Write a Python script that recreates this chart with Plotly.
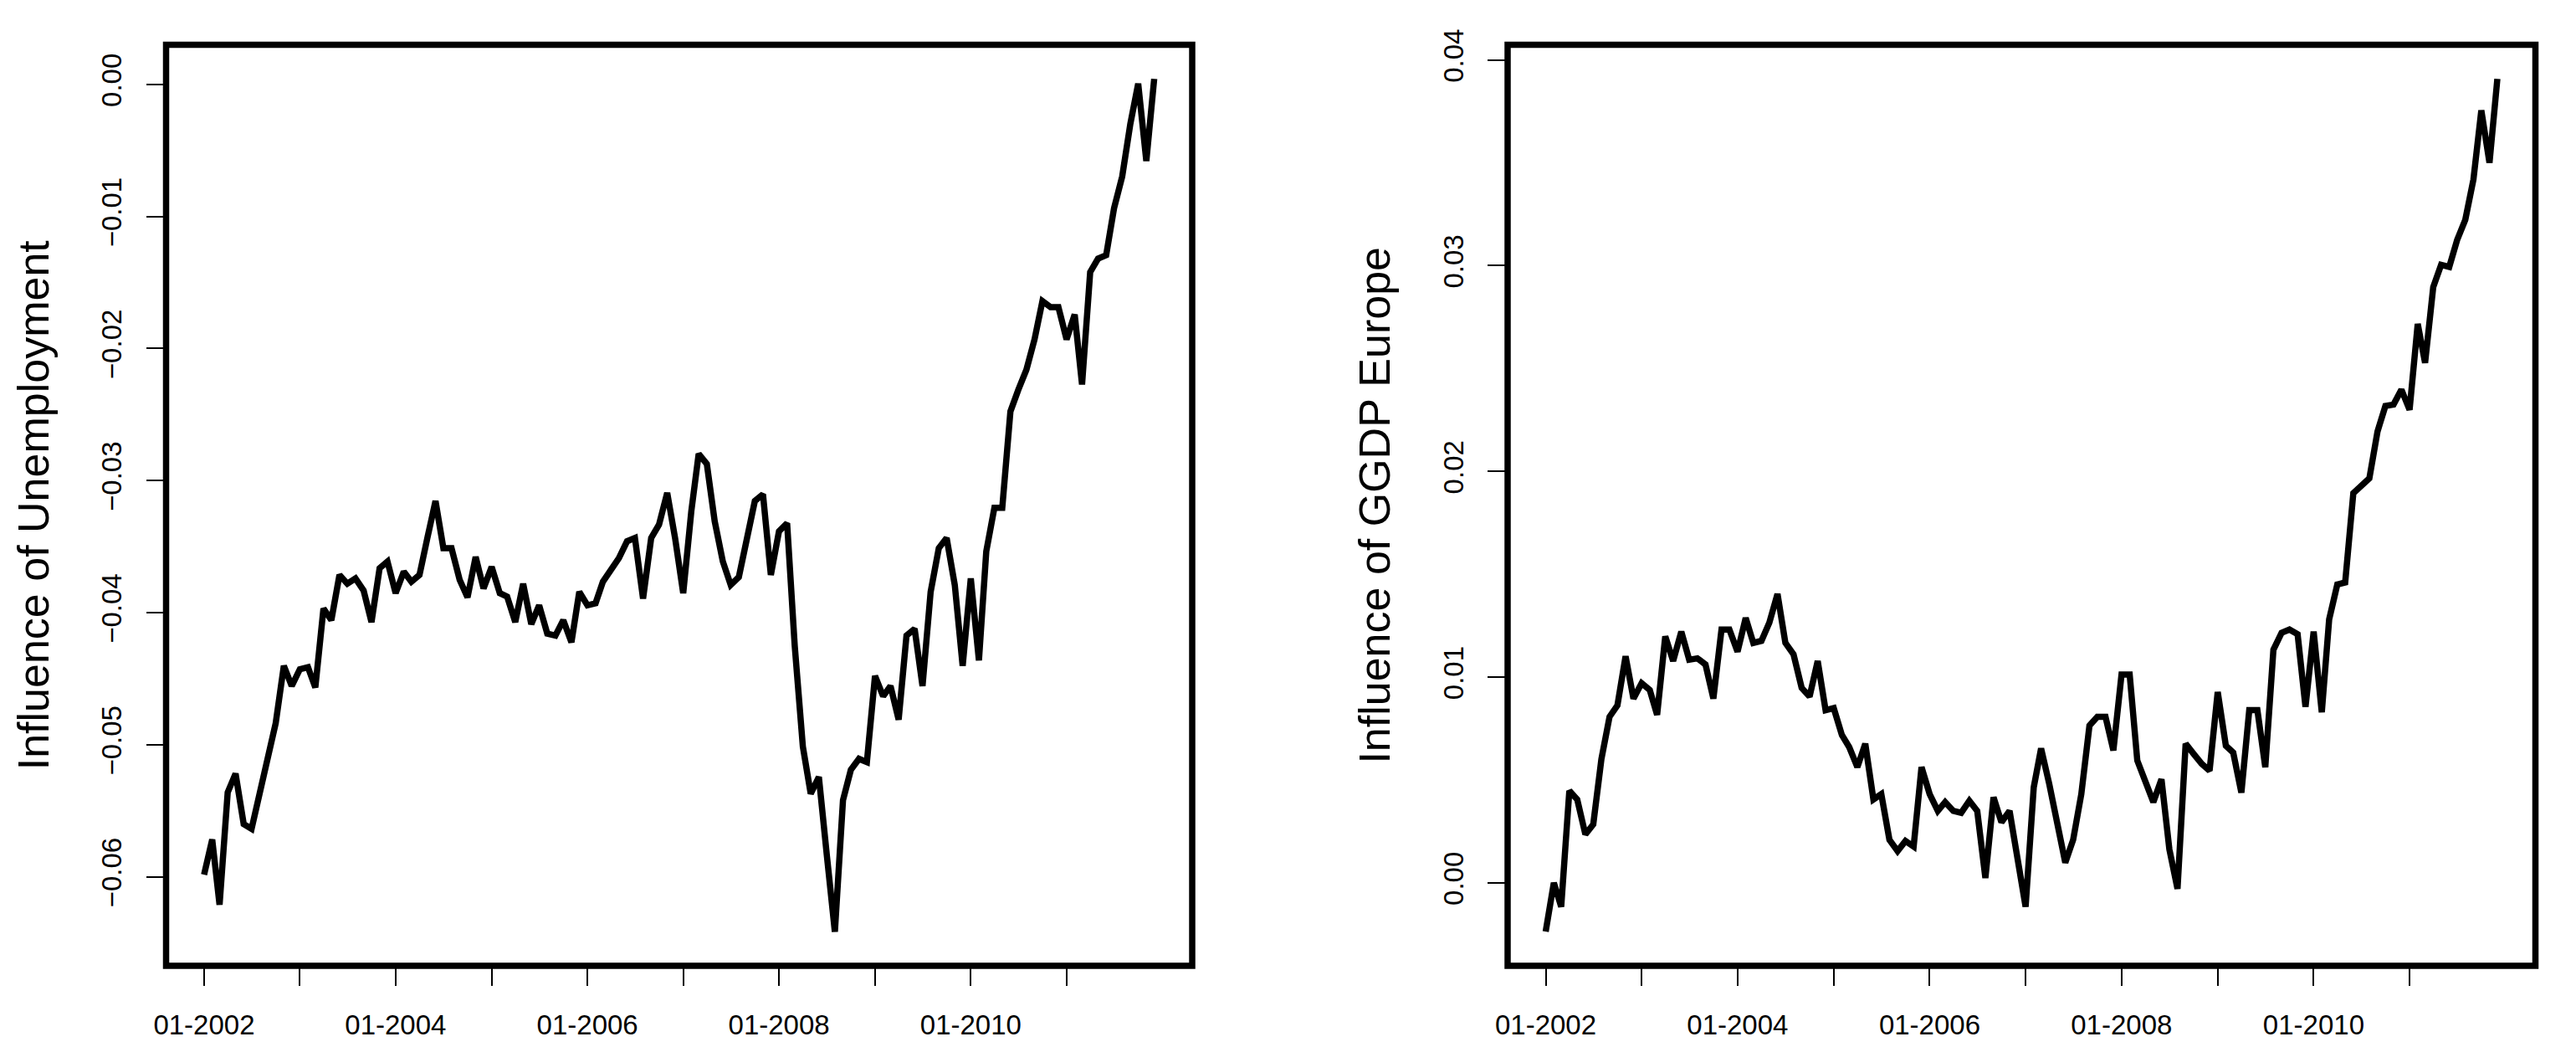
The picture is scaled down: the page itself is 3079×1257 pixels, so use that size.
import pandas as pd
import plotly.graph_objects as go
from plotly.subplots import make_subplots

# ---- data (monthly, Jan 2002 - Dec 2011) ----
dates = pd.date_range("2002-01-01", periods=120, freq="MS")

unemployment = [
    -0.05984, -0.05718, -0.06212, -0.05362, -0.05219, -0.05601, -0.05637, -0.05372, -0.05117, -0.04837,
    -0.04403, -0.04556, -0.04429, -0.04414, -0.04567, -0.03970, -0.04057, -0.03715, -0.03781, -0.03741,
    -0.03833, -0.04072, -0.03664, -0.03613, -0.03853, -0.03690, -0.03766, -0.03715, -0.03435, -0.03155,
    -0.03512, -0.03512, -0.03751, -0.03884, -0.03578, -0.03817, -0.03654, -0.03853, -0.03879, -0.04072,
    -0.03781, -0.04087, -0.03945, -0.04159, -0.04174, -0.04057, -0.04225, -0.03843, -0.03945, -0.03929,
    -0.03766, -0.03664, -0.03588, -0.03460, -0.03435, -0.03894, -0.03435, -0.03333, -0.03093, -0.03435,
    -0.03853, -0.03231, -0.02798, -0.02874, -0.03308, -0.03613, -0.03791, -0.03731, -0.03410, -0.03155,
    -0.03104, -0.03715, -0.03384, -0.03323, -0.04251, -0.05015, -0.05372, -0.05244, -0.05830, -0.06416,
    -0.05420, -0.05190, -0.05107, -0.05132, -0.04480, -0.04633, -0.04556, -0.04811, -0.04174, -0.04123,
    -0.04556, -0.03843, -0.03512, -0.03435, -0.03791, -0.04403, -0.03741, -0.04362, -0.03537, -0.03206,
    -0.03206, -0.02477, -0.02314, -0.02161, -0.01931, -0.01641, -0.01687, -0.01687, -0.01931, -0.01743,
    -0.02273, -0.01422, -0.01320, -0.01294, -0.00938, -0.00698, -0.00301, 0.00005, -0.00581, 0.00041,
]

ggdp_europe = [
    -0.00238, 0.00000, -0.00117, 0.00447, 0.00405, 0.00235, 0.00284, 0.00601, 0.00807, 0.00862,
    0.01101, 0.00895, 0.00970, 0.00937, 0.00816, 0.01198, 0.01078, 0.01221, 0.01084, 0.01091,
    0.01061, 0.00895, 0.01231, 0.01231, 0.01123, 0.01287, 0.01166, 0.01176, 0.01264, 0.01404,
    0.01166, 0.01110, 0.00947, 0.00905, 0.01078, 0.00839, 0.00849, 0.00718, 0.00659, 0.00562,
    0.00676, 0.00405, 0.00431, 0.00209, 0.00154, 0.00203, 0.00176, 0.00562, 0.00431, 0.00349,
    0.00392, 0.00349, 0.00340, 0.00398, 0.00349, 0.00023, 0.00415, 0.00294, 0.00349, 0.00111,
    -0.00117, 0.00464, 0.00653, 0.00480, 0.00274, 0.00098, 0.00209, 0.00431, 0.00764, 0.00807,
    0.00807, 0.00643, 0.01012, 0.01012, 0.00594, 0.00497, 0.00392, 0.00503, 0.00163, -0.00030,
    0.00676, 0.00627, 0.00578, 0.00545, 0.00927, 0.00666, 0.00633, 0.00438, 0.00839, 0.00839,
    0.00562, 0.01133, 0.01215, 0.01231, 0.01208, 0.00855, 0.01221, 0.00829, 0.01280, 0.01450,
    0.01460, 0.01894, 0.01933, 0.01966, 0.02194, 0.02318, 0.02325, 0.02397, 0.02299, 0.02717,
    0.02527, 0.02896, 0.03004, 0.02994, 0.03125, 0.03223, 0.03419, 0.03755, 0.03500, 0.03908,
]

x_tick_dates = [f"{y}-01-01" for y in range(2002, 2012)]
x_tick_text = ["01-2002", "", "01-2004", "", "01-2006", "", "01-2008", "", "01-2010", ""]

left_title = "Influence of Unemployment"
right_title = "Influence of GGDP Europe"
left_ticks = [-0.06, -0.05, -0.04, -0.03, -0.02, -0.01, 0.00]
right_ticks = [0.00, 0.01, 0.02, 0.03, 0.04]

# ---- layout constants ----
W, H = 3079, 1257
FONT = "Liberation Sans, Arial, Helvetica, sans-serif"
LW = 7.5


def padded(vals, frac=0.04):
    lo, hi = min(vals), max(vals)
    d = (hi - lo) * frac
    return [lo - d, hi + d]


span = dates[-1] - dates[0]
x_range = [dates[0] - span * 0.04, dates[-1] + span * 0.04]

fig = make_subplots(rows=1, cols=2)

for col, series in ((1, unemployment), (2, ggdp_europe)):
    fig.add_trace(
        go.Scatter(x=dates, y=series, mode="lines",
                   line=dict(color="black", width=LW),
                   showlegend=False, hoverinfo="skip"),
        row=1, col=col,
    )

ydom = [1 - 1154 / H, 1 - 53.5 / H]
xdom1 = [198.5 / W, 1425 / W]
xdom2 = [1802 / W, 3030.5 / W]

common_x = dict(
    type="date", range=x_range, tickmode="array", tickvals=x_tick_dates, ticktext=x_tick_text,
    showgrid=False, zeroline=False, showline=False, automargin=False,
    ticks="outside", ticklen=23, tickwidth=2, tickcolor="black",
    tickfont=dict(family=FONT, size=33, color="black"), ticklabelstandoff=18,
)
common_y = dict(
    showgrid=False, zeroline=False, showline=False, automargin=False,
    ticks="outside", ticklen=23, tickwidth=2, tickcolor="black",
    tickangle=-90, tickformat=".2f", tickmode="array",
    tickfont=dict(family=FONT, size=33, color="black"), ticklabelstandoff=16,
)

fig.update_layout(
    width=W, height=H,
    margin=dict(l=0, r=0, t=0, b=0, pad=0),
    paper_bgcolor="white", plot_bgcolor="white",
    xaxis=dict(domain=xdom1, **common_x),
    xaxis2=dict(domain=xdom2, **common_x),
    yaxis=dict(domain=ydom, range=padded(unemployment), tickvals=left_ticks,
               title=dict(text=left_title, font=dict(family=FONT, size=52, color="black"), standoff=40),
               **common_y),
    yaxis2=dict(domain=ydom, range=padded(ggdp_europe), tickvals=right_ticks,
                title=dict(text=right_title, font=dict(family=FONT, size=52, color="black"), standoff=40),
                **common_y),
)

for xr, yr in (("x domain", "y domain"), ("x2 domain", "y2 domain")):
    fig.add_shape(type="rect", xref=xr, yref=yr, x0=0, x1=1, y0=0, y1=1,
                  line=dict(color="black", width=LW), fillcolor="rgba(0,0,0,0)")

fig.write_html("out.html", config={"displayModeBar": False},
               post_script="document.body.style.margin='0';")
